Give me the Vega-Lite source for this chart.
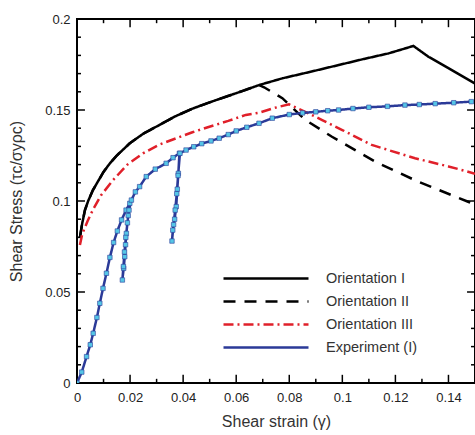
{
  "$schema": "https://vega.github.io/schema/vega-lite/v6.json",
  "width": 398,
  "height": 364,
  "autosize": {"type": "none"},
  "padding": {"left": 77, "top": 19, "right": 0, "bottom": 52},
  "background": "white",
  "config": {
    "font": "Liberation Sans",
    "view": {"stroke": "black", "strokeWidth": 2},
    "axis": {"grid": false, "domain": false, "ticks": false, "labelColor": "#222", "labelFontSize": 13, "titleColor": "#333", "titleFontWeight": "normal", "titleFontSize": 16, "labelFlush": false, "labelOverlap": false}
  },
  "datasets": {
    "xt": [
      {"tv": 0.0, "major": 1}, {"tv": 0.01, "major": 0}, {"tv": 0.02, "major": 1}, {"tv": 0.03, "major": 0},
      {"tv": 0.04, "major": 1}, {"tv": 0.05, "major": 0}, {"tv": 0.06, "major": 1}, {"tv": 0.07, "major": 0},
      {"tv": 0.08, "major": 1}, {"tv": 0.09, "major": 0}, {"tv": 0.1, "major": 1}, {"tv": 0.11, "major": 0},
      {"tv": 0.12, "major": 1}, {"tv": 0.13, "major": 0}, {"tv": 0.14, "major": 1}
    ],
    "yt": [
      {"tv": 0.01, "major": 0}, {"tv": 0.02, "major": 0}, {"tv": 0.03, "major": 0},
      {"tv": 0.04, "major": 0}, {"tv": 0.05, "major": 1}, {"tv": 0.06, "major": 0}, {"tv": 0.07, "major": 0},
      {"tv": 0.08, "major": 0}, {"tv": 0.09, "major": 0}, {"tv": 0.1, "major": 1}, {"tv": 0.11, "major": 0},
      {"tv": 0.12, "major": 0}, {"tv": 0.13, "major": 0}, {"tv": 0.14, "major": 0}, {"tv": 0.15, "major": 1},
      {"tv": 0.16, "major": 0}, {"tv": 0.17, "major": 0}, {"tv": 0.18, "major": 0}, {"tv": 0.19, "major": 0}
    ],
    "main": [
    {"s": "Orientation I", "o": 0, "x": 0.0011, "y": 0.080},
    {"s": "Orientation I", "o": 1, "x": 0.002, "y": 0.088},
    {"s": "Orientation I", "o": 2, "x": 0.003, "y": 0.095},
    {"s": "Orientation I", "o": 3, "x": 0.0042, "y": 0.100},
    {"s": "Orientation I", "o": 4, "x": 0.006, "y": 0.106},
    {"s": "Orientation I", "o": 5, "x": 0.008, "y": 0.111},
    {"s": "Orientation I", "o": 6, "x": 0.010, "y": 0.116},
    {"s": "Orientation I", "o": 7, "x": 0.0124, "y": 0.1207},
    {"s": "Orientation I", "o": 8, "x": 0.015, "y": 0.125},
    {"s": "Orientation I", "o": 9, "x": 0.0199, "y": 0.1317},
    {"s": "Orientation I", "o": 10, "x": 0.025, "y": 0.137},
    {"s": "Orientation I", "o": 11, "x": 0.0311, "y": 0.1418},
    {"s": "Orientation I", "o": 12, "x": 0.037, "y": 0.1465},
    {"s": "Orientation I", "o": 13, "x": 0.0436, "y": 0.1508},
    {"s": "Orientation I", "o": 14, "x": 0.05, "y": 0.1542},
    {"s": "Orientation I", "o": 15, "x": 0.0561, "y": 0.1573},
    {"s": "Orientation I", "o": 16, "x": 0.0625, "y": 0.1605},
    {"s": "Orientation I", "o": 17, "x": 0.0686, "y": 0.1637},
    {"s": "Orientation I", "o": 18, "x": 0.0774, "y": 0.1674},
    {"s": "Orientation I", "o": 19, "x": 0.088, "y": 0.171},
    {"s": "Orientation I", "o": 20, "x": 0.0986, "y": 0.1747},
    {"s": "Orientation I", "o": 21, "x": 0.108, "y": 0.178},
    {"s": "Orientation I", "o": 22, "x": 0.1174, "y": 0.1811},
    {"s": "Orientation I", "o": 23, "x": 0.1268, "y": 0.1852},
    {"s": "Orientation I", "o": 24, "x": 0.1324, "y": 0.1793},
    {"s": "Orientation I", "o": 25, "x": 0.14, "y": 0.173},
    {"s": "Orientation I", "o": 26, "x": 0.15, "y": 0.1645},
    {"s": "Orientation II", "o": 0, "x": 0.0011, "y": 0.080},
    {"s": "Orientation II", "o": 1, "x": 0.002, "y": 0.088},
    {"s": "Orientation II", "o": 2, "x": 0.003, "y": 0.095},
    {"s": "Orientation II", "o": 3, "x": 0.0042, "y": 0.100},
    {"s": "Orientation II", "o": 4, "x": 0.006, "y": 0.106},
    {"s": "Orientation II", "o": 5, "x": 0.008, "y": 0.111},
    {"s": "Orientation II", "o": 6, "x": 0.010, "y": 0.116},
    {"s": "Orientation II", "o": 7, "x": 0.0124, "y": 0.1207},
    {"s": "Orientation II", "o": 8, "x": 0.015, "y": 0.125},
    {"s": "Orientation II", "o": 9, "x": 0.0199, "y": 0.1317},
    {"s": "Orientation II", "o": 10, "x": 0.025, "y": 0.137},
    {"s": "Orientation II", "o": 11, "x": 0.0311, "y": 0.1418},
    {"s": "Orientation II", "o": 12, "x": 0.037, "y": 0.1465},
    {"s": "Orientation II", "o": 13, "x": 0.0436, "y": 0.1508},
    {"s": "Orientation II", "o": 14, "x": 0.05, "y": 0.1542},
    {"s": "Orientation II", "o": 15, "x": 0.0561, "y": 0.1573},
    {"s": "Orientation II", "o": 16, "x": 0.0625, "y": 0.1605},
    {"s": "Orientation II", "o": 17, "x": 0.0686, "y": 0.1637},
    {"s": "Orientation II", "o": 18, "x": 0.0705, "y": 0.1625},
    {"s": "Orientation II", "o": 19, "x": 0.0774, "y": 0.1565},
    {"s": "Orientation II", "o": 20, "x": 0.0861, "y": 0.1445},
    {"s": "Orientation II", "o": 21, "x": 0.0961, "y": 0.1353},
    {"s": "Orientation II", "o": 22, "x": 0.1124, "y": 0.1216},
    {"s": "Orientation II", "o": 23, "x": 0.1286, "y": 0.1106},
    {"s": "Orientation II", "o": 24, "x": 0.1474, "y": 0.0996},
    {"s": "Orientation II", "o": 25, "x": 0.15, "y": 0.098},
    {"s": "Orientation III", "o": 0, "x": 0.0011, "y": 0.0758},
    {"s": "Orientation III", "o": 1, "x": 0.002, "y": 0.082},
    {"s": "Orientation III", "o": 2, "x": 0.004, "y": 0.089},
    {"s": "Orientation III", "o": 3, "x": 0.0061, "y": 0.0955},
    {"s": "Orientation III", "o": 4, "x": 0.009, "y": 0.103},
    {"s": "Orientation III", "o": 5, "x": 0.0136, "y": 0.1115},
    {"s": "Orientation III", "o": 6, "x": 0.019, "y": 0.12},
    {"s": "Orientation III", "o": 7, "x": 0.0249, "y": 0.1262},
    {"s": "Orientation III", "o": 8, "x": 0.031, "y": 0.131},
    {"s": "Orientation III", "o": 9, "x": 0.0374, "y": 0.1345},
    {"s": "Orientation III", "o": 10, "x": 0.0435, "y": 0.1378},
    {"s": "Orientation III", "o": 11, "x": 0.0499, "y": 0.1408},
    {"s": "Orientation III", "o": 12, "x": 0.057, "y": 0.144},
    {"s": "Orientation III", "o": 13, "x": 0.0636, "y": 0.1473},
    {"s": "Orientation III", "o": 14, "x": 0.0686, "y": 0.1485},
    {"s": "Orientation III", "o": 15, "x": 0.074, "y": 0.151},
    {"s": "Orientation III", "o": 16, "x": 0.0799, "y": 0.1531},
    {"s": "Orientation III", "o": 17, "x": 0.086, "y": 0.149},
    {"s": "Orientation III", "o": 18, "x": 0.0924, "y": 0.1445},
    {"s": "Orientation III", "o": 19, "x": 0.1, "y": 0.139},
    {"s": "Orientation III", "o": 20, "x": 0.1111, "y": 0.1308},
    {"s": "Orientation III", "o": 21, "x": 0.1274, "y": 0.1235},
    {"s": "Orientation III", "o": 22, "x": 0.14, "y": 0.119},
    {"s": "Orientation III", "o": 23, "x": 0.1474, "y": 0.1161},
    {"s": "Orientation III", "o": 24, "x": 0.15, "y": 0.115},
    {"s": "Experiment (I)", "o": 0, "x": 0.0, "y": 0.0},
    {"s": "Experiment (I)", "o": 1, "x": 0.0018, "y": 0.006},
    {"s": "Experiment (I)", "o": 2, "x": 0.0036, "y": 0.0145},
    {"s": "Experiment (I)", "o": 3, "x": 0.005, "y": 0.021},
    {"s": "Experiment (I)", "o": 4, "x": 0.0061, "y": 0.0273},
    {"s": "Experiment (I)", "o": 5, "x": 0.0075, "y": 0.036},
    {"s": "Experiment (I)", "o": 6, "x": 0.0086, "y": 0.0438},
    {"s": "Experiment (I)", "o": 7, "x": 0.0098, "y": 0.052},
    {"s": "Experiment (I)", "o": 8, "x": 0.0111, "y": 0.0603},
    {"s": "Experiment (I)", "o": 9, "x": 0.0124, "y": 0.069},
    {"s": "Experiment (I)", "o": 10, "x": 0.0138, "y": 0.0772},
    {"s": "Experiment (I)", "o": 11, "x": 0.0152, "y": 0.0835},
    {"s": "Experiment (I)", "o": 12, "x": 0.0168, "y": 0.0896},
    {"s": "Experiment (I)", "o": 13, "x": 0.0185, "y": 0.095},
    {"s": "Experiment (I)", "o": 14, "x": 0.0199, "y": 0.0987},
    {"s": "Experiment (I)", "o": 15, "x": 0.0193, "y": 0.092},
    {"s": "Experiment (I)", "o": 16, "x": 0.0186, "y": 0.0822},
    {"s": "Experiment (I)", "o": 17, "x": 0.0183, "y": 0.076},
    {"s": "Experiment (I)", "o": 18, "x": 0.018, "y": 0.0694},
    {"s": "Experiment (I)", "o": 19, "x": 0.0176, "y": 0.063},
    {"s": "Experiment (I)", "o": 20, "x": 0.0171, "y": 0.0566},
    {"s": "Experiment (I)", "o": 21, "x": 0.0175, "y": 0.064},
    {"s": "Experiment (I)", "o": 22, "x": 0.0179, "y": 0.072},
    {"s": "Experiment (I)", "o": 23, "x": 0.0184, "y": 0.08},
    {"s": "Experiment (I)", "o": 24, "x": 0.019, "y": 0.088},
    {"s": "Experiment (I)", "o": 25, "x": 0.0196, "y": 0.095},
    {"s": "Experiment (I)", "o": 26, "x": 0.0205, "y": 0.1005},
    {"s": "Experiment (I)", "o": 27, "x": 0.022, "y": 0.105},
    {"s": "Experiment (I)", "o": 28, "x": 0.0236, "y": 0.1079},
    {"s": "Experiment (I)", "o": 29, "x": 0.0261, "y": 0.1134},
    {"s": "Experiment (I)", "o": 30, "x": 0.0295, "y": 0.1175},
    {"s": "Experiment (I)", "o": 31, "x": 0.0336, "y": 0.1207},
    {"s": "Experiment (I)", "o": 32, "x": 0.0362, "y": 0.1238},
    {"s": "Experiment (I)", "o": 33, "x": 0.0386, "y": 0.1262},
    {"s": "Experiment (I)", "o": 34, "x": 0.0382, "y": 0.1152},
    {"s": "Experiment (I)", "o": 35, "x": 0.0378, "y": 0.1065},
    {"s": "Experiment (I)", "o": 36, "x": 0.0374, "y": 0.0969},
    {"s": "Experiment (I)", "o": 37, "x": 0.0368, "y": 0.09},
    {"s": "Experiment (I)", "o": 38, "x": 0.0361, "y": 0.084},
    {"s": "Experiment (I)", "o": 39, "x": 0.0358, "y": 0.078},
    {"s": "Experiment (I)", "o": 40, "x": 0.0364, "y": 0.087},
    {"s": "Experiment (I)", "o": 41, "x": 0.037, "y": 0.095},
    {"s": "Experiment (I)", "o": 42, "x": 0.0376, "y": 0.104},
    {"s": "Experiment (I)", "o": 43, "x": 0.0381, "y": 0.114},
    {"s": "Experiment (I)", "o": 44, "x": 0.0388, "y": 0.1262},
    {"s": "Experiment (I)", "o": 45, "x": 0.0411, "y": 0.128},
    {"s": "Experiment (I)", "o": 46, "x": 0.044, "y": 0.1298},
    {"s": "Experiment (I)", "o": 47, "x": 0.047, "y": 0.1315},
    {"s": "Experiment (I)", "o": 48, "x": 0.0505, "y": 0.133},
    {"s": "Experiment (I)", "o": 49, "x": 0.0536, "y": 0.1345},
    {"s": "Experiment (I)", "o": 50, "x": 0.057, "y": 0.1365},
    {"s": "Experiment (I)", "o": 51, "x": 0.06, "y": 0.1385},
    {"s": "Experiment (I)", "o": 52, "x": 0.064, "y": 0.1405},
    {"s": "Experiment (I)", "o": 53, "x": 0.0686, "y": 0.1427},
    {"s": "Experiment (I)", "o": 54, "x": 0.0736, "y": 0.1455},
    {"s": "Experiment (I)", "o": 55, "x": 0.08, "y": 0.1475},
    {"s": "Experiment (I)", "o": 56, "x": 0.085, "y": 0.1484},
    {"s": "Experiment (I)", "o": 57, "x": 0.09, "y": 0.149},
    {"s": "Experiment (I)", "o": 58, "x": 0.0945, "y": 0.1496},
    {"s": "Experiment (I)", "o": 59, "x": 0.0986, "y": 0.15},
    {"s": "Experiment (I)", "o": 60, "x": 0.104, "y": 0.1508},
    {"s": "Experiment (I)", "o": 61, "x": 0.11, "y": 0.1515},
    {"s": "Experiment (I)", "o": 62, "x": 0.117, "y": 0.152},
    {"s": "Experiment (I)", "o": 63, "x": 0.1236, "y": 0.1527},
    {"s": "Experiment (I)", "o": 64, "x": 0.129, "y": 0.153},
    {"s": "Experiment (I)", "o": 65, "x": 0.135, "y": 0.1535},
    {"s": "Experiment (I)", "o": 66, "x": 0.142, "y": 0.154},
    {"s": "Experiment (I)", "o": 67, "x": 0.1486, "y": 0.1546}
    ]
  },
  "layer": [
    {
      "data": {"name": "xt"},
      "transform": [{"filter": "datum.major == 1"}],
      "mark": {"type": "rule", "color": "black", "strokeWidth": 1.5},
      "encoding": {
        "x": {"field": "tv", "type": "quantitative", "axis": null},
        "y": {"datum": 0, "type": "quantitative", "axis": null},
        "y2": {"datum": 0.0045}
      }
    },
    {
      "data": {"name": "xt"},
      "transform": [{"filter": "datum.major == 0"}],
      "mark": {"type": "rule", "color": "black", "strokeWidth": 1.5},
      "encoding": {
        "x": {"field": "tv", "type": "quantitative", "axis": null},
        "y": {"datum": 0, "type": "quantitative", "axis": null},
        "y2": {"datum": 0.0023}
      }
    },
    {
      "data": {"name": "xt"},
      "transform": [{"filter": "datum.major == 1"}],
      "mark": {"type": "rule", "color": "black", "strokeWidth": 1.5},
      "encoding": {
        "x": {"field": "tv", "type": "quantitative", "axis": null},
        "y": {"datum": 0.2, "type": "quantitative", "axis": null},
        "y2": {"datum": 0.1955}
      }
    },
    {
      "data": {"name": "xt"},
      "transform": [{"filter": "datum.major == 0"}],
      "mark": {"type": "rule", "color": "black", "strokeWidth": 1.5},
      "encoding": {
        "x": {"field": "tv", "type": "quantitative", "axis": null},
        "y": {"datum": 0.2, "type": "quantitative", "axis": null},
        "y2": {"datum": 0.1977}
      }
    },
    {
      "data": {"name": "yt"},
      "transform": [{"filter": "datum.major == 1"}],
      "mark": {"type": "rule", "color": "black", "strokeWidth": 1.5},
      "encoding": {
        "y": {"field": "tv", "type": "quantitative", "axis": null},
        "x": {"datum": 0, "type": "quantitative", "axis": null},
        "x2": {"datum": 0.003}
      }
    },
    {
      "data": {"name": "yt"},
      "transform": [{"filter": "datum.major == 0"}],
      "mark": {"type": "rule", "color": "black", "strokeWidth": 1.5},
      "encoding": {
        "y": {"field": "tv", "type": "quantitative", "axis": null},
        "x": {"datum": 0, "type": "quantitative", "axis": null},
        "x2": {"datum": 0.0015}
      }
    },
    {
      "data": {"name": "yt"},
      "transform": [{"filter": "datum.major == 1"}],
      "mark": {"type": "rule", "color": "black", "strokeWidth": 1.5},
      "encoding": {
        "y": {"field": "tv", "type": "quantitative", "axis": null},
        "x": {"datum": 0.15, "type": "quantitative", "axis": null},
        "x2": {"datum": 0.147}
      }
    },
    {
      "data": {"name": "yt"},
      "transform": [{"filter": "datum.major == 0"}],
      "mark": {"type": "rule", "color": "black", "strokeWidth": 1.5},
      "encoding": {
        "y": {"field": "tv", "type": "quantitative", "axis": null},
        "x": {"datum": 0.15, "type": "quantitative", "axis": null},
        "x2": {"datum": 0.1485}
      }
    },
    {
      "data": {"name": "main"},
      "mark": {"type": "line", "strokeWidth": 2.5, "clip": true},
      "encoding": {
        "x": {"field": "x", "type": "quantitative", "scale": {"domain": [0, 0.15], "nice": false, "zero": false},
          "axis": {"orient": "bottom", "title": "Shear strain  (γ)", "format": "~g",
            "values": [0,0.02,0.04,0.06,0.08,0.1,0.12,0.14],
            "labelPadding": 8, "titlePadding": 9}},
        "y": {"field": "y", "type": "quantitative", "scale": {"domain": [0, 0.2], "nice": false},
          "axis": {"orient": "left", "title": "Shear Stress  (τc/σyρc)", "format": "~g",
            "values": [0,0.05,0.1,0.15,0.2],
            "labelPadding": 7, "titlePadding": 20}},
        "color": {"field": "s", "type": "nominal",
          "scale": {"domain": ["Orientation I", "Orientation II", "Orientation III", "Experiment (I)"], "range": ["#000000", "#000000", "#e0202a", "#2b3a98"]},
          "legend": {"orient": "none", "legendX": 145, "legendY": 248, "title": null, "symbolType": "stroke", "symbolSize": 7225, "symbolStrokeWidth": 2.5, "labelFontSize": 14.5, "labelColor": "#333", "labelOffset": 16, "padding": 0, "symbolOffset": 0, "rowPadding": 0, "clipHeight": 23}},
        "strokeDash": {"field": "s", "type": "nominal",
          "scale": {"domain": ["Orientation I", "Orientation II", "Orientation III", "Experiment (I)"], "range": [[1, 0], [12, 9], [10, 4, 2, 4], [1, 0]]},
          "legend": {"orient": "none", "legendX": 145, "legendY": 248, "title": null, "symbolType": "stroke", "symbolSize": 7225, "symbolStrokeWidth": 2.5, "labelFontSize": 14.5, "labelColor": "#333", "labelOffset": 16, "padding": 0, "symbolOffset": 0, "rowPadding": 0, "clipHeight": 23}},
        "order": {"field": "o", "type": "quantitative"}
      }
    },
    {
      "data": {"name": "main"},
      "transform": [{"filter": "datum.s == 'Experiment (I)'"}],
      "mark": {"type": "point", "shape": "square", "filled": true, "color": "#55c6e6", "stroke": "#2b3a98", "strokeWidth": 0.6, "size": 20, "opacity": 1, "clip": true},
      "encoding": {
        "x": {"field": "x", "type": "quantitative", "axis": null},
        "y": {"field": "y", "type": "quantitative", "axis": null}
      }
    }
  ],
  "resolve": {"axis": {"x": "independent", "y": "independent"}}
}
